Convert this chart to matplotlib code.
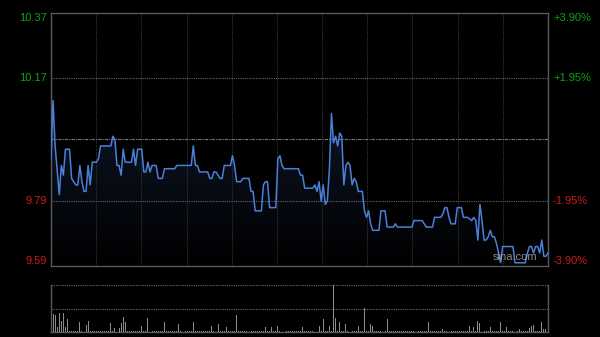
import numpy as np
import matplotlib
matplotlib.use("Agg")
import matplotlib.pyplot as plt
from matplotlib.patches import Polygon

plt.rcParams["font.family"] = ["Liberation Sans", "DejaVu Sans"]

# ── data (minute of session, price) ─────────────────────────────────────
PREV_CLOSE = 9.98
N_MIN = 241

price_min = [0, 1, 2, 4, 5, 6, 7, 9, 10, 11, 12, 13, 14, 15, 16, 17, 18, 19, 20, 22,
             23, 24, 29, 30, 31, 32, 33, 34, 35, 36, 39, 40, 41, 42, 44, 45, 46, 47, 48, 49,
             51, 52, 54, 55, 60, 61, 67, 68, 69, 70, 71, 72, 76, 77, 78, 79, 80, 82, 83, 84,
             87, 88, 89, 90, 92, 93, 96, 97, 98, 99, 102, 103, 104, 105, 106, 109, 110, 111, 112, 113,
             120, 121, 122, 123, 127, 128, 129, 130, 131, 132, 133, 134, 135, 136, 137, 138, 139, 140, 141, 142,
             143, 144, 145, 146, 147, 148, 149, 151, 152, 153, 154, 155, 156, 159, 160, 162, 163, 166, 167, 168,
             175, 176, 180, 181, 182, 185, 186, 189, 190, 191, 192, 193, 194, 196, 197, 199, 200, 202, 204, 205,
             206, 207, 208, 209, 210, 211, 212, 213, 214, 215, 216, 218, 219, 220, 224, 225, 230, 231, 232, 233,
             234, 235, 236, 237, 238, 239, 240, 241]
price_val = [9.92, 10.10, 9.96, 9.81, 9.90, 9.87, 9.95, 9.95, 9.86, 9.85, 9.84, 9.84, 9.90, 9.85, 9.82, 9.82, 9.90, 9.84, 9.91, 9.91,
             9.92, 9.96, 9.96, 9.99, 9.98, 9.90, 9.90, 9.87, 9.95, 9.91, 9.91, 9.95, 9.90, 9.95, 9.95, 9.88, 9.88, 9.91, 9.88, 9.90,
             9.90, 9.86, 9.86, 9.89, 9.89, 9.90, 9.90, 9.90, 9.96, 9.90, 9.90, 9.88, 9.88, 9.86, 9.86, 9.88, 9.88, 9.86, 9.86, 9.90,
             9.90, 9.93, 9.90, 9.85, 9.85, 9.86, 9.86, 9.82, 9.82, 9.76, 9.76, 9.84, 9.85, 9.85, 9.77, 9.77, 9.92, 9.93, 9.90, 9.89,
             9.89, 9.87, 9.87, 9.83, 9.83, 9.84, 9.82, 9.85, 9.79, 9.84, 9.78, 9.79, 9.89, 10.06, 9.97, 9.99, 9.96, 10.00, 9.99, 9.84,
             9.90, 9.91, 9.90, 9.84, 9.86, 9.85, 9.82, 9.82, 9.76, 9.74, 9.76, 9.72, 9.70, 9.70, 9.76, 9.76, 9.71, 9.71, 9.72, 9.71,
             9.71, 9.73, 9.73, 9.72, 9.71, 9.71, 9.74, 9.74, 9.75, 9.77, 9.77, 9.74, 9.72, 9.72, 9.77, 9.77, 9.74, 9.74, 9.73, 9.74,
             9.73, 9.67, 9.78, 9.73, 9.67, 9.67, 9.68, 9.70, 9.68, 9.68, 9.66, 9.60, 9.65, 9.65, 9.65, 9.60, 9.60, 9.63, 9.65, 9.65,
             9.63, 9.65, 9.65, 9.63, 9.67, 9.62, 9.62, 9.63]

# notable volume bars (minute, relative volume); other minutes trade a trickle
vol_min = [0, 1, 2, 3, 4, 5, 6, 7, 8, 14, 17, 18, 29, 31, 33, 34, 35, 36, 44, 47,
           55, 62, 69, 78, 81, 85, 90, 104, 107, 110, 112, 122, 130, 132, 135, 137, 138, 140, 143, 145,
           149, 152, 155, 156, 163, 183, 190, 203, 205, 207, 208, 213, 218, 221, 227, 232, 233, 234, 238, 239,
           240, 241]
vol_val = [21, 18, 17, 5, 19, 11, 19, 5, 13, 10, 7, 11, 9, 4, 4, 9, 15, 10, 6, 14,
           10, 8, 10, 6, 8, 5, 17, 5, 5, 6, 5, 5, 6, 13, 6, 47, 14, 10, 8, 10,
           6, 24, 8, 6, 13, 10, 3, 6, 5, 11, 9, 5, 10, 5, 3, 4, 6, 7, 10, 3,
           3, 3]
VOL_TRICKLE = 1.2

left_ticks = [10.37, 10.17, 9.79, 9.59]
right_ticks = ["+3.90%", "+1.95%", "-1.95%", "-3.90%"]

# ── style ───────────────────────────────────────────────────────────────
BG = "#000000"
FRAME = "#5a5a5a"
LINE = "#4a80d8"
UP = "#10a010"
DOWN = "#cc1a1a"

fig = plt.figure(figsize=(6.0, 3.37), dpi=100, facecolor=BG)
ax = fig.add_axes([51 / 600, 71 / 337, 497 / 600, 253 / 337], facecolor=BG)
axv = fig.add_axes([51 / 600, 5 / 337, 497 / 600, 47 / 337], facecolor=BG)

ymin, ymax = 9.59, 10.37
ax.set_xlim(0, N_MIN)
ax.set_ylim(ymin, ymax)

# gradient fill under the price line
grad = np.linspace(0, 1, 256).reshape(-1, 1)
img = ax.imshow(grad, extent=[0, N_MIN, ymin, max(price_val)], origin="lower",
                aspect="auto", cmap=matplotlib.colors.LinearSegmentedColormap.from_list(
                    "g", ["#000000", "#0e1728"]), zorder=1)
poly = Polygon(list(zip(price_min, price_val)) + [(N_MIN, ymin), (0, ymin)],
               closed=True, facecolor="none", edgecolor="none")
ax.add_patch(poly)
img.set_clip_path(poly)

ax.plot(price_min, price_val, color=LINE, lw=1.1, zorder=3)

# grid
for xg in np.linspace(0, N_MIN, 12)[1:-1]:
    ax.axvline(xg, color="#353535", lw=0.8, ls=(0, (1, 1)), zorder=2)
for yg in (10.17, 9.79):
    ax.axhline(yg, color="#666666", lw=0.8, ls=(0, (1, 1)), zorder=2)
ax.axhline(PREV_CLOSE, color="#7a7a7a", lw=0.8, ls=(0, (3, 1, 1, 1)), zorder=2)

for s in ax.spines.values():
    s.set_color(FRAME)
    s.set_linewidth(1.0)
ax.set_xticks([])
ax.set_yticks([])

# price / percent labels
vas = ["top", "center", "center", "bottom"]
for val, pct, va in zip(left_ticks, right_ticks, vas):
    col = UP if val > PREV_CLOSE else DOWN
    ax.text(-0.008, val, f"{val:.2f}", transform=ax.get_yaxis_transform(),
            ha="right", va=va, color=col, fontsize=8)
    ax.text(1.01, val, pct, transform=ax.get_yaxis_transform(),
            ha="left", va=va, color=col, fontsize=8)

ax.text(0.978, 0.015, "sina.com", transform=ax.transAxes, ha="right", va="bottom",
        color="#bbbbbb", alpha=0.75, fontsize=8)

# volume panel
vol = np.full(N_MIN + 1, VOL_TRICKLE)
vol[vol_min] = vol_val
vmax = max(vol_val)
axv.bar(np.arange(N_MIN + 1), vol, width=0.45, color="#8c8c8c", zorder=3)
axv.set_xlim(0, N_MIN)
axv.set_ylim(0, vmax)
axv.axhline(vmax / 2, color="#6a6a6a", lw=0.8, ls=(0, (1, 1)), zorder=2)
axv.axhline(vmax, color="#6a6a6a", lw=0.8, ls=(0, (1, 1)), zorder=2)
axv.spines["top"].set_visible(False)
for k in ("left", "right", "bottom"):
    axv.spines[k].set_color(FRAME)
    axv.spines[k].set_linewidth(1.0)
axv.set_xticks([])
axv.set_yticks([])

fig.savefig("out.png", dpi=100, facecolor=BG)
